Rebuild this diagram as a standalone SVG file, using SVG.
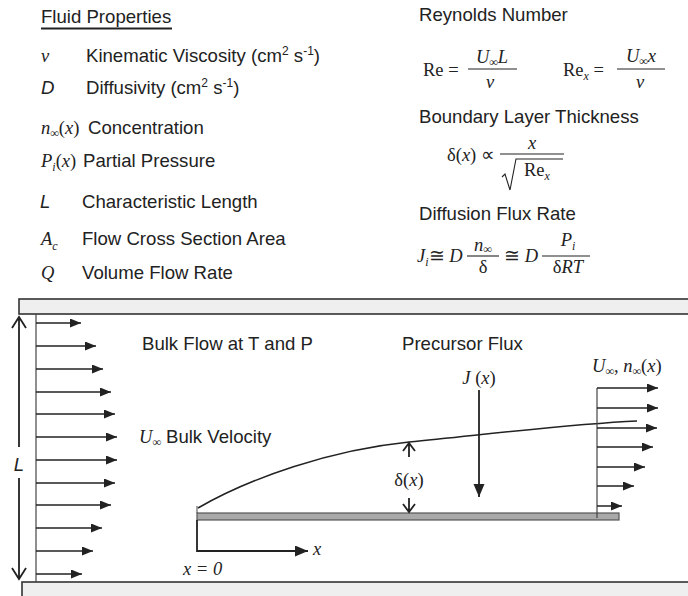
<svg xmlns="http://www.w3.org/2000/svg" width="688" height="596" viewBox="0 0 688 596">
<style>
.s{font-family:"Liberation Sans",Arial,sans-serif;font-size:18.6px;fill:#222}
.si{font-family:"Liberation Sans",Arial,sans-serif;font-size:18.6px;font-style:italic;fill:#222}
.m{font-family:"Liberation Serif","Times New Roman",serif;font-size:18.5px;fill:#222}
.mi{font-family:"Liberation Serif","Times New Roman",serif;font-size:18.5px;font-style:italic;fill:#222}
.it{font-style:italic}
.sub{font-size:12px}
.sup{font-size:12px}
.wall{fill:#efefef;stroke:#333;stroke-width:1.6}
.flow{stroke:#222;stroke-width:1.5;fill:none;marker-end:url(#ah)}
.thin{stroke:#444;stroke-width:1.2;fill:none}
.open{stroke:#222;stroke-width:1.8;fill:none}
</style>
<defs>
<marker id="ah" markerUnits="userSpaceOnUse" markerWidth="12" markerHeight="10" refX="11" refY="4.5" orient="auto"><path d="M0,0 L11,4.5 L0,9 z" fill="#222"/></marker>
<marker id="ahb" markerUnits="userSpaceOnUse" markerWidth="14" markerHeight="12" refX="13" refY="5.5" orient="auto"><path d="M0,0 L13,5.5 L0,11 z" fill="#222"/></marker>
</defs>

<g id="legend">
<text class="s" x="41" y="23">Fluid Properties</text>
<line x1="41" y1="28.5" x2="172" y2="28.5" stroke="#222" stroke-width="1.8"/>
<text class="mi" x="41" y="62">v</text>
<text class="s" x="86" y="62">Kinematic Viscosity (cm<tspan class="sup" dy="-7">2</tspan><tspan dy="7"> s</tspan><tspan class="sup" dy="-7">-1</tspan><tspan dy="7">)</tspan></text>
<text class="si" x="41" y="94">D</text>
<text class="s" x="86" y="94">Diffusivity (cm<tspan class="sup" dy="-7">2</tspan><tspan dy="7"> s</tspan><tspan class="sup" dy="-7">-1</tspan><tspan dy="7">)</tspan></text>
<text class="mi" x="41" y="134">n<tspan class="sub" dy="3">∞</tspan><tspan dy="-3" font-style="normal">(</tspan>x<tspan font-style="normal">)</tspan></text>
<text class="s" x="88" y="134">Concentration</text>
<text class="mi" x="41" y="167">P<tspan class="sub" dy="4">i</tspan><tspan dy="-4" font-style="normal">(</tspan>x<tspan font-style="normal">)</tspan></text>
<text class="s" x="83" y="167">Partial Pressure</text>
<text class="si" x="40" y="208">L</text>
<text class="s" x="82" y="208">Characteristic Length</text>
<text class="mi" x="41" y="245">A<tspan class="sub" dy="5">c</tspan></text>
<text class="s" x="82" y="245">Flow Cross Section Area</text>
<text class="mi" x="41" y="279">Q</text>
<text class="s" x="82" y="279">Volume Flow Rate</text>
</g>

<g id="equations">
<text class="s" x="419" y="21">Reynolds Number</text>
<text class="m" x="423" y="76">Re =</text>
<line x1="468" y1="69" x2="517" y2="69" stroke="#222" stroke-width="1.1"/>
<text class="mi" x="492" y="63" text-anchor="middle">U<tspan class="sub" dy="3">∞</tspan><tspan dy="-3">L</tspan></text>
<text class="mi" x="490" y="88" text-anchor="middle">v</text>
<text class="m" x="563" y="76">Re<tspan class="sub it" dy="4">x</tspan><tspan dy="-4"> =</tspan></text>
<line x1="617" y1="69" x2="665" y2="69" stroke="#222" stroke-width="1.1"/>
<text class="mi" x="641" y="62" text-anchor="middle">U<tspan class="sub" dy="3">∞</tspan><tspan dy="-3">x</tspan></text>
<text class="mi" x="640" y="88" text-anchor="middle">v</text>

<text class="s" x="419" y="123">Boundary Layer Thickness</text>
<text class="m" x="447" y="161">δ(<tspan class="it">x</tspan>) ∝</text>
<line x1="500" y1="154" x2="564" y2="154" stroke="#222" stroke-width="1.1"/>
<text class="mi" x="532" y="149" text-anchor="middle">x</text>
<polyline points="502,177 505,174 510,190 516,159 563,159" fill="none" stroke="#222" stroke-width="1.1"/>
<text class="m" x="524" y="176">Re<tspan class="sub it" dy="4">x</tspan></text>

<text class="s" x="419" y="220">Diffusion Flux Rate</text>
<text class="mi" x="417" y="262">J<tspan class="sub" dy="4">i</tspan><tspan dy="-4" font-style="normal">≅</tspan> D</text>
<line x1="467" y1="256" x2="499" y2="256" stroke="#222" stroke-width="1.1"/>
<text class="mi" x="483" y="251" text-anchor="middle">n<tspan class="sub" dy="2">∞</tspan></text>
<text class="m" x="483" y="273" text-anchor="middle">δ</text>
<text class="mi" x="504" y="262"><tspan font-style="normal">≅</tspan> D</text>
<line x1="542" y1="256" x2="590" y2="256" stroke="#222" stroke-width="1.1"/>
<text class="mi" x="568" y="246" text-anchor="middle">P<tspan class="sub" dy="4">i</tspan></text>
<text class="mi" x="568" y="273" text-anchor="middle"><tspan font-style="normal">δ</tspan>RT</text>
</g>

<g id="wall-top"><rect class="wall" x="19" y="299" width="680" height="15"/></g>
<g id="wall-bottom"><rect class="wall" x="22" y="582" width="680" height="20"/></g>
<g id="plate"><rect x="197" y="513" width="422" height="7" fill="#a9a9a9" stroke="#555" stroke-width="1.2"/></g>
<g id="boundary-layer"><path d="M198,508 C250,478 330,450 409,442 C490,434 570,424 637,421" fill="none" stroke="#222" stroke-width="1.5"/><line x1="197" y1="506" x2="197" y2="513" stroke="#444" stroke-width="1"/></g>

<g id="labels">
<text class="s" x="142" y="350">Bulk Flow at T and P</text>
<text class="s" x="402" y="350">Precursor Flux</text>
<text class="mi" x="139" y="443">U<tspan class="sub" dy="3">∞</tspan></text>
<text class="s" x="166" y="443">Bulk Velocity</text>
<text class="si" x="19" y="471" text-anchor="middle">L</text>
<text class="m" x="409" y="486" text-anchor="middle" font-size="16">δ(<tspan class="it">x</tspan>)</text>
<text class="mi" x="479" y="384" text-anchor="middle">J <tspan font-style="normal">(</tspan>x<tspan font-style="normal">)</tspan></text>
<text class="mi" x="592" y="372">U<tspan class="sub" dy="3">∞</tspan><tspan dy="-3" font-style="normal">, </tspan>n<tspan class="sub" dy="3">∞</tspan><tspan dy="-3" font-style="normal">(</tspan>x<tspan font-style="normal">)</tspan></text>
<text class="mi" x="313" y="555">x</text>
<text class="mi" x="183" y="575">x = 0</text>
</g>

<g id="connectors">
<line class="thin" x1="36" y1="314" x2="36" y2="582"/>
<line class="flow" x1="36" y1="323" x2="81" y2="323"/>
<line class="flow" x1="36" y1="346" x2="96" y2="346"/>
<line class="flow" x1="36" y1="369" x2="103" y2="369"/>
<line class="flow" x1="36" y1="392" x2="111" y2="392"/>
<line class="flow" x1="36" y1="414" x2="115" y2="414"/>
<line class="flow" x1="36" y1="437" x2="117" y2="437"/>
<line class="flow" x1="36" y1="460" x2="117" y2="460"/>
<line class="flow" x1="36" y1="483" x2="115" y2="483"/>
<line class="flow" x1="36" y1="505" x2="111" y2="505"/>
<line class="flow" x1="36" y1="528" x2="102" y2="528"/>
<line class="flow" x1="36" y1="551" x2="93" y2="551"/>
<line class="flow" x1="36" y1="574" x2="82" y2="574"/>

<path class="open" d="M19,317 L19,447 M19,478 L19,579 M12,328 L19,317 L26,328 M12,568 L19,579 L26,568"/>

<line class="thin" x1="597" y1="388" x2="597" y2="518"/>
<line class="flow" x1="597" y1="388" x2="658" y2="388"/>
<line class="flow" x1="597" y1="408" x2="658" y2="408"/>
<line class="flow" x1="597" y1="428" x2="657" y2="428"/>
<line class="flow" x1="597" y1="447" x2="653" y2="447"/>
<line class="flow" x1="597" y1="467" x2="645" y2="467"/>
<line class="flow" x1="597" y1="486" x2="634" y2="486"/>
<line class="flow" x1="597" y1="506" x2="622" y2="506"/>

<path class="open" d="M409,443 L409,457 M403,451 L409,443 L415,451 M409,498 L409,512 M403,504 L409,512 L415,504"/>

<line x1="479" y1="390" x2="479" y2="497" stroke="#222" stroke-width="1.8" marker-end="url(#ahb)"/>

<path d="M197,520 L197,551 L308,551" fill="none" stroke="#222" stroke-width="1.8" marker-end="url(#ahb)"/>
</g>
</svg>
